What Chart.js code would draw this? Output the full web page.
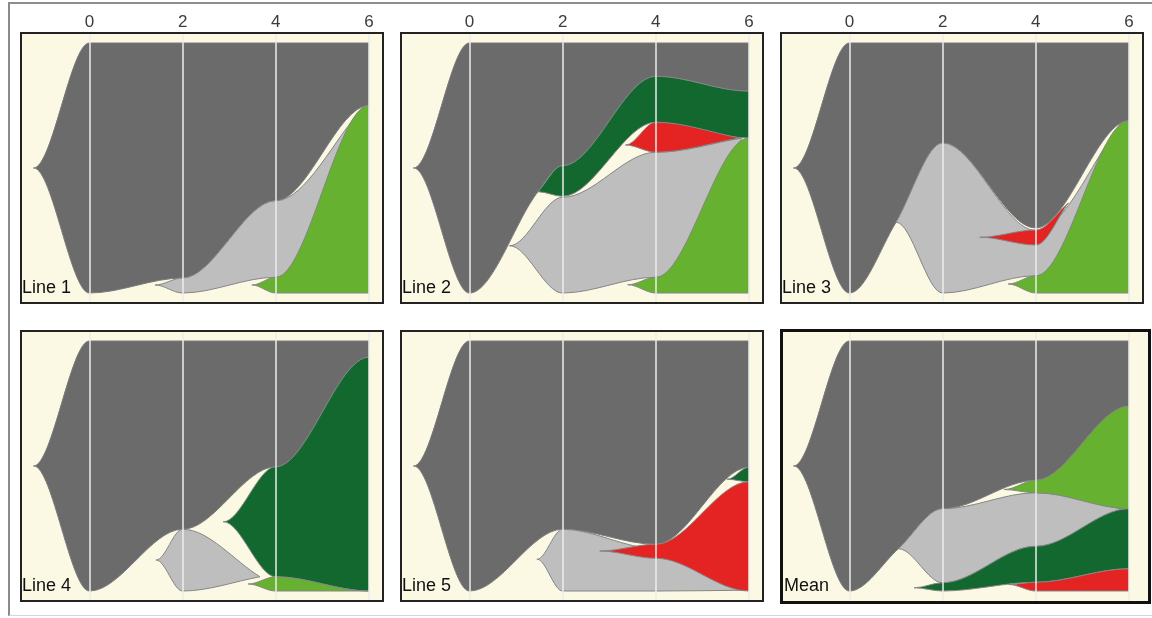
<!DOCTYPE html>
<html>
<head>
<meta charset="utf-8">
<script src="https://cdn.jsdelivr.net/npm/chart.js@4.4.1/dist/chart.umd.min.js"></script>
<style>
  html, body { margin: 0; padding: 0; background: #ffffff; }
  body { width: 1152px; height: 618px; position: relative; overflow: hidden;
         font-family: 'Liberation Sans', Arial, sans-serif; }
  .outer { position: absolute; left: 8px; top: 2px; width: 1160px; height: 614px; box-sizing: border-box;
           border-left: 2.5px solid #8a8a8a; border-top: 2px solid #8f8f8f; border-bottom: 1px solid #d6d6d6; }
  .bg { position: absolute; background: #fbf8e3; }
  .frame { position: absolute; box-sizing: border-box; border: 2px solid #222222; pointer-events: none; }
  .frame.bold { border: 3.5px solid #111111; }
  canvas { position: absolute; }
  .tag { position: absolute; font-size: 18px; line-height: 18px; color: #111111; white-space: nowrap; }
</style>
</head>
<body>
<div class="outer"></div>
<div id="fig"></div>
<script>
// Sampling times and axis ticks
const TIMEPOINTS = [0, 2, 4, 6];
const X_TICKS = [0, 2, 4, 6];
const PANEL_TITLES = ['Line 1', 'Line 2', 'Line 3', 'Line 4', 'Line 5', 'Mean'];

// Each clone: knots [time, upper edge, lower edge] (% of the population axis).
// The first knot is where the clone emerges; a last knot before 6 is where it dies out.
// Line 1
const line1Founder    = [[-1.2, 50, 50], [0, 100, 0], [2, 100, 6], [4, 100, 36.9], [6, 100, 75]];
const line1Grey       = [[1.41, 3.2, 3.2], [2, 6, 0], [4, 36.9, 6.3], [5.9, 74.8, 74.8]];
const line1LightGreen = [[3.49, 3.2, 3.2], [4, 6.3, 0], [6, 75, 0]];
// Line 2
const line2Founder    = [[-1.2, 50, 50], [0, 100, 0], [1.47, 100, 40.5], [2, 100, 50.9], [4, 100, 86.7], [6, 100, 80.7]];
const line2Grey       = [[0.86, 18.9, 18.9], [2, 38.3, 0], [4, 56.3, 6.3], [5.85, 62, 62]];
const line2DarkGreen  = [[1.47, 40.5, 40.5], [2, 50.9, 38.7], [4, 86.7, 68.3], [6, 80.7, 62]];
const line2Red        = [[3.35, 59.2, 59.2], [4, 68.3, 56.3], [5.8, 62, 62]];
const line2LightGreen = [[3.40, 3.3, 3.3], [4, 6.3, 0], [6, 62, 0]];
// Line 3
const line3Founder    = [[-1.2, 50, 50], [0, 100, 0], [1.0, 100, 28.3], [2, 100, 60], [4, 100, 26], [6, 100, 68.9]];
const line3Grey       = [[1.0, 28.3, 28.3], [2, 60, 0], [4, 25, 6.9], [5.85, 68.5, 68.5]];
const line3Red        = [[2.8, 22.3, 22.3], [4, 25.2, 19.2], [4.7, 36, 36]];
const line3LightGreen = [[3.41, 3.6, 3.6], [4, 6.9, 0], [6, 68.9, 0]];
// Line 4
const line4Founder    = [[-1.2, 50, 50], [0, 100, 0], [2, 100, 24.7], [4, 100, 49.7], [6, 100, 93.5]];
const line4Grey       = [[1.43, 12.4, 12.4], [2, 24.7, 0], [3.66, 5.7, 5.7]];
const line4DarkGreen  = [[2.87, 27.7, 27.7], [4, 49.7, 5.7], [6, 93.5, 0]];
const line4LightGreen = [[3.41, 2.8, 2.8], [4, 5.7, 0], [6, 0, 0]];
// Line 5
const line5Founder    = [[-1.2, 50, 50], [0, 100, 0], [2, 100, 24.7], [4, 100, 18.7], [6, 100, 49.5]];
const line5Grey       = [[1.45, 12.7, 12.7], [2, 24.7, 0], [4, 17, 0], [5.85, 0.3, 0.3]];
const line5Red        = [[2.8, 16, 16], [4, 18.7, 13.1], [6, 43.7, 0]];
const line5DarkGreen  = [[5.53, 44.7, 44.7], [6, 49.5, 43.7]];
// Mean
const meanFounder     = [[-1.2, 50, 50], [0, 100, 0], [1.05, 100, 16.9], [2, 100, 32.9], [4, 100, 44.3], [6, 100, 73.9]];
const meanGrey        = [[1.05, 16.9, 16.9], [2, 32.9, 3.3], [4, 39.3, 17.9], [5.85, 32.9, 32.9]];
const meanLightGreen  = [[3.32, 40.6, 40.6], [4, 44.3, 39.3], [6, 73.9, 32.9]];
const meanDarkGreen   = [[1.39, 1.3, 1.3], [2, 3.3, 0], [4, 17.9, 3.5], [6, 32.9, 8.9]];
const meanRed         = [[3.42, 2.6, 2.6], [4, 3.5, 0], [6, 8.9, 0]];

// Panels: clones listed in drawing order (founder first)
const PANELS = [
  { title: PANEL_TITLES[0], clones: [['founder', line1Founder], ['grey', line1Grey], ['lightGreen', line1LightGreen]] },
  { title: PANEL_TITLES[1], clones: [['founder', line2Founder], ['grey', line2Grey], ['darkGreen', line2DarkGreen], ['red', line2Red], ['lightGreen', line2LightGreen]] },
  { title: PANEL_TITLES[2], clones: [['founder', line3Founder], ['grey', line3Grey], ['red', line3Red], ['lightGreen', line3LightGreen]] },
  { title: PANEL_TITLES[3], clones: [['founder', line4Founder], ['grey', line4Grey], ['darkGreen', line4DarkGreen], ['lightGreen', line4LightGreen]] },
  { title: PANEL_TITLES[4], clones: [['founder', line5Founder], ['grey', line5Grey], ['red', line5Red], ['darkGreen', line5DarkGreen]] },
  { title: PANEL_TITLES[5], clones: [['founder', meanFounder], ['grey', meanGrey], ['lightGreen', meanLightGreen], ['darkGreen', meanDarkGreen], ['red', meanRed]] }
];

// Styling
const CLONE_COLORS = { founder: '#6b6b6b', grey: '#bebebe', lightGreen: '#66b12f', darkGreen: '#12682f', red: '#e32422' };
const FOUNDER_OUTLINE = '#7a7a7a';
const CLONE_OUTLINE = '#858585';
const GRID_COLOR = 'rgba(236,236,236,0.75)';
const FONT = "'Liberation Sans', Arial, sans-serif";

// Layout
const X_MIN = -1.471, X_MAX = 6.302, Y_MIN = -4, Y_MAX = 104;
const COL_LEFT = [21, 401, 781];
const ROW_TOP = [33, 331];
const BOX_W = 362, BOX_H = 270, AXIS_H = 33;
const HOLD = 0.004;   // half-width of the level section an edge passes through at a held knot

// Edge of a clone as line points. Edges level off at each timepoint so the curve eases
// between samples; a clone's tip is held level too, except the upper edge of a clone that
// buds straight off the founder's boundary, which keeps following that boundary.
function edgePoints(knots, col, holdFirst) {
  const pts = [];
  knots.forEach((k, i) => {
    const x = k[0], v = k[col];
    const held = TIMEPOINTS.includes(x) || (i === 0 && holdFirst);
    if (held) { pts.push({ x: x - HOLD, y: v }, { x: x + HOLD, y: v }); }
    else { pts.push({ x: x, y: v }); }
  });
  return pts;
}

const fig = document.getElementById('fig');
function addDiv(cls, l, t, w, h) {
  const d = document.createElement('div');
  d.className = cls;
  Object.assign(d.style, { left: l + 'px', top: t + 'px', width: w + 'px', height: h + 'px' });
  fig.appendChild(d);
  return d;
}

PANELS.forEach((panel, p) => {
  const col = p % 3, row = Math.floor(p / 3);
  const left = COL_LEFT[col], top = ROW_TOP[row];
  const isMean = p === 5;
  const axisH = row === 0 ? AXIS_H : 0;

  // cream plotting field
  if (isMean) addDiv('bg', left, top - 1, BOX_W + 8, BOX_H + 3);
  else addDiv('bg', left, top, BOX_W, BOX_H);

  const canvas = document.createElement('canvas');
  canvas.width = BOX_W; canvas.height = BOX_H + axisH;
  canvas.style.left = left + 'px'; canvas.style.top = (top - axisH) + 'px';
  fig.appendChild(canvas);

  const founderKnots = panel.clones[0][1];
  const budTimes = founderKnots.filter((k, i) => i > 0 && !TIMEPOINTS.includes(k[0])).map(k => k[0]);

  const datasets = [];
  panel.clones.forEach(([kind, knots], ci) => {
    const isFounder = ci === 0;
    const outline = isFounder ? FOUNDER_OUTLINE : CLONE_OUTLINE;
    const holdUpper = isFounder || !budTimes.includes(knots[0][0]);
    datasets.push({ label: kind + ' upper', data: edgePoints(knots, 1, holdUpper), fill: '+1',
                    backgroundColor: CLONE_COLORS[kind], borderColor: outline });
    datasets.push({ label: kind + ' lower', data: edgePoints(knots, 2, true), fill: false,
                    backgroundColor: CLONE_COLORS[kind], borderColor: outline });
  });
  datasets.forEach((d, i) => { d.order = datasets.length - i; });

  new Chart(canvas, {
    type: 'line',
    data: { datasets },
    options: {
      responsive: false,
      animation: false,
      events: [],
      layout: { padding: 0 },
      plugins: { legend: { display: false }, tooltip: { enabled: false }, title: { display: false } },
      elements: {
        point: { radius: 0, hoverRadius: 0 },
        line: { cubicInterpolationMode: 'monotone', borderWidth: 1 }
      },
      scales: {
        x: {
          type: 'linear', position: 'top', min: X_MIN, max: X_MAX,
          afterBuildTicks: (axis) => { axis.ticks = X_TICKS.map(v => ({ value: v })); },
          afterFit: (axis) => { axis.height = axisH; },
          grid: { color: GRID_COLOR, lineWidth: 2, drawTicks: false, z: 1 },
          border: { display: false },
          ticks: { display: row === 0, padding: 0, maxRotation: 0, autoSkip: false,
                   color: '#3c3c3c', font: { family: FONT, size: 17 },
                   callback: (v) => String(v) }
        },
        y: { type: 'linear', display: false, min: Y_MIN, max: Y_MAX }
      }
    }
  });

  // panel frame and name
  if (isMean) addDiv('frame bold', left - 1, top - 2, BOX_W + 9, BOX_H + 5);
  else addDiv('frame', left - 1, top - 1, BOX_W + 2, BOX_H + 2);
  const tag = addDiv('tag', left + (isMean ? 3 : 1), top + 245, 80, 18);
  tag.style.height = 'auto'; tag.style.width = 'auto';
  tag.textContent = panel.title;
});
</script>
</body>
</html>
